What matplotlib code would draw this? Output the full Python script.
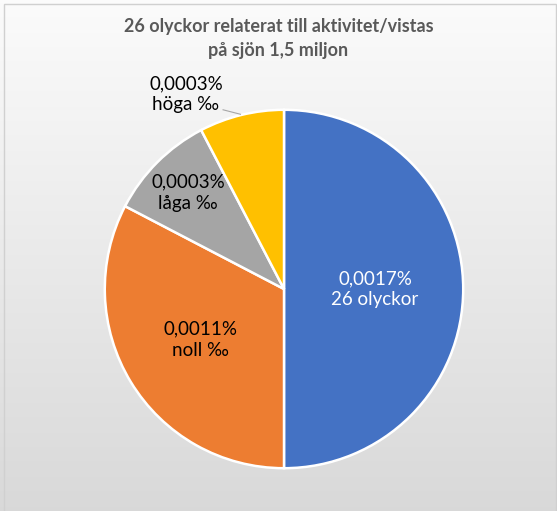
import numpy as np
import matplotlib
matplotlib.use("Agg")
import matplotlib.pyplot as plt
from matplotlib.patches import Rectangle

title = "26 olyckor relaterat till aktivitet/vistas\npå sjön 1,5 miljon"
categories = ["26 olyckor", "noll ‰", "låga ‰", "höga ‰"]
values = [0.0017, 0.00111, 0.00033, 0.00026]
value_labels = ["0,0017%", "0,0011%", "0,0003%", "0,0003%"]
colors = ["#4472C4", "#ED7D31", "#A5A5A5", "#FFC000"]
text_colors = ["white", "#000000", "#000000", "#000000"]

W, H = 557, 511
fig = plt.figure(figsize=(W / 100, H / 100), dpi=100)
fig.patch.set_facecolor("white")

# gradient background
bg = fig.add_axes([0, 0, 1, 1])
bg.set_axis_off()
grad = np.linspace(0, 1, 256).reshape(-1, 1)
top = np.array([0.985, 0.985, 0.985])
bot = np.array([0.85, 0.85, 0.85])
img = top + (bot - top) * grad[:, :, None]
bg.imshow(img, aspect="auto", extent=[0, 1, 0, 1], origin="upper")
bg.set_xlim(0, 1)
bg.set_ylim(0, 1)
bg.add_patch(Rectangle((3.5 / W, -0.01), (552 / W), (H - 3.5) / H + 0.01,
                       fill=False, edgecolor="#d0d0d0", lw=1.0))
bg.add_patch(Rectangle((0, (H - 3.5) / H), 1, 3.5 / H, color="white", lw=0, zorder=-1))

cx, cy, r = 284, 289, 181
ax = fig.add_axes([(cx - r) / W, (H - cy - r) / H, 2 * r / W, 2 * r / H])
ax.set_axis_off()
ax.pie(values, colors=colors, startangle=90, counterclock=False, radius=1.0,
       wedgeprops=dict(edgecolor="white", linewidth=1.8))
ax.set_xlim(-1.01, 1.01)
ax.set_ylim(-1.01, 1.01)
ax.set_aspect("auto")

font = "Lato"
pos = [(0.508, 0.0), (-0.464, -0.282), (-0.536, 0.536), (-0.547, 1.088)]
for (x, y), vl, cat, tc in zip(pos, value_labels, categories, text_colors):
    ax.text(x, y, vl + "\n" + cat, ha="center", va="center", fontsize=13.5,
            color=tc, family=font, linespacing=1.3, clip_on=False)
ax.plot([-0.34, -0.243], [1.0, 0.975], color="#a6a6a6", lw=0.8, clip_on=False)

fig.text(0.5, 1 - 38.5 / H, title, ha="center", va="center", fontsize=13,
         fontweight="bold", color="#595959", family=font, linespacing=1.45)

fig.savefig("out.png", dpi=100)
